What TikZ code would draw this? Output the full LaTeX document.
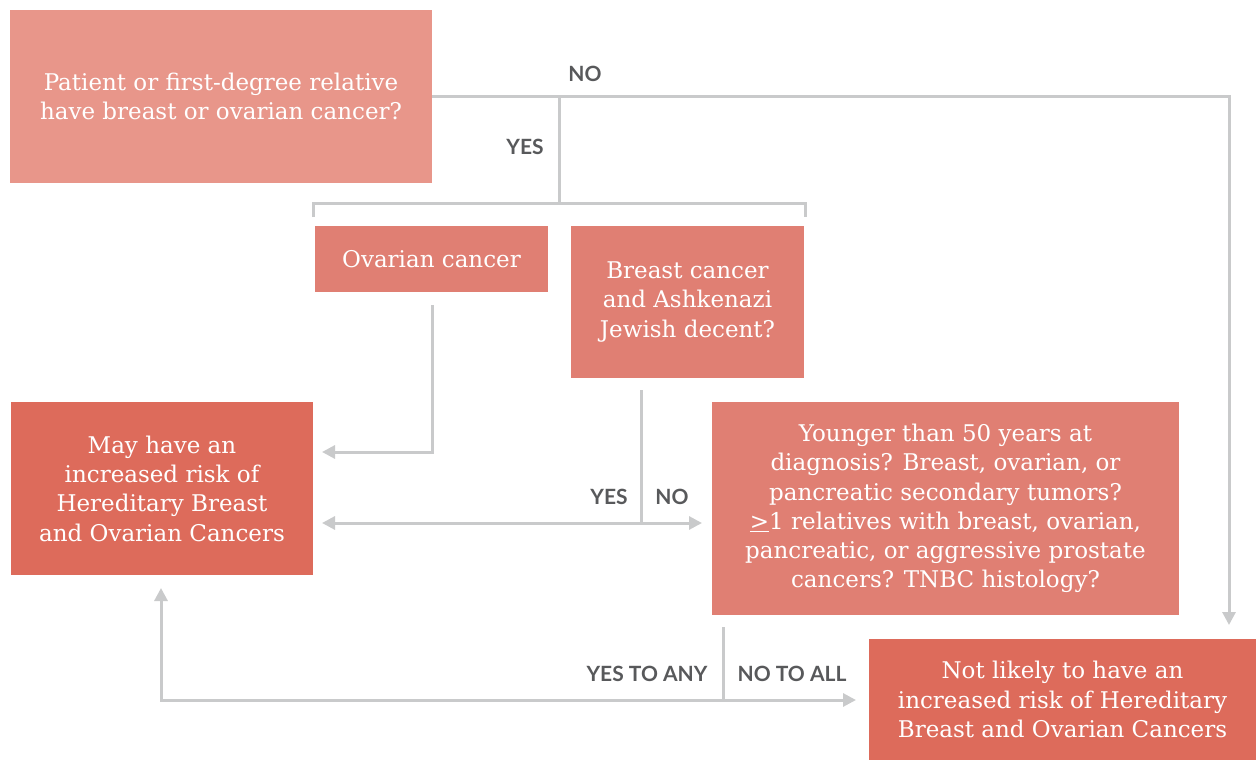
\documentclass[tikz,border=0pt]{standalone}
\usepackage{fontspec}
\setmainfont{DejaVu Serif}
\newfontfamily\labelfont{Lato}
\usetikzlibrary{arrows.meta, positioning}

\definecolor{boxlight}{HTML}{E8968A}
\definecolor{boxmid}{HTML}{E07F73}
\definecolor{boxdark}{HTML}{DD6B5B}
\definecolor{linegray}{HTML}{C9CACB}
\definecolor{labelgray}{HTML}{58595B}

\tikzset{
  box/.style={rectangle, inner sep=0pt, align=center, text=white,
    font=\fontsize{23}{29.3}\selectfont},
  conn/.style={draw=linegray, line width=3pt},
  tip/.tip={Triangle[length=13pt, width=13pt]},
  arr/.style={conn, -tip},
  ans/.style={font=\labelfont\bfseries\fontsize{21}{22}\selectfont, text=labelgray},
}

\begin{document}
\begin{tikzpicture}[x=1pt, y=-1pt]
  \useasboundingbox (0,0) rectangle (1256,760);

  % Boxes
  \node[box, fill=boxlight, minimum width=422pt, minimum height=173pt]
       (patient) at (221,96.5) {Patient or first-degree relative\\have breast or ovarian cancer?};
  \node[box, fill=boxmid, minimum width=233pt, minimum height=66pt]
       (ovarian) at (431.5,259) {Ovarian cancer};
  \node[box, fill=boxmid, minimum width=233pt, minimum height=152pt]
       (breast) at (687.5,302) {Breast cancer\\and Ashkenazi\\Jewish decent?};
  \node[box, fill=boxdark, minimum width=302pt, minimum height=173pt]
       (mayrisk) at (162,488.5) {May have an\\increased risk of\\Hereditary Breast\\and Ovarian Cancers};
  \node[box, fill=boxmid, minimum width=467pt, minimum height=213pt]
       (younger) at (945.5,508.5) {Younger than 50 years at\\diagnosis? Breast, ovarian, or\\pancreatic secondary tumors?\\\underline{>}1 relatives with breast, ovarian,\\pancreatic, or aggressive prostate\\cancers? TNBC histology?};
  \node[box, fill=boxdark, minimum width=387pt, minimum height=121pt]
       (notlikely) at (1062.5,699.5) {Not likely to have an\\increased risk of Hereditary\\Breast and Ovarian Cancers};

  % Free ends of the connectors
  \coordinate (split) at (559,96.5);
  \coordinate (brmid) at (559,203);
  \coordinate (brleft) at (313,217);
  \coordinate (brright) at (805,217);
  \coordinate (ovout) at (432,305);
  \coordinate (ovin) at (322,452);
  \coordinate (brout) at (641,390);
  \coordinate (brjoin) at (641,523);
  \coordinate (yesin) at (322,523);
  \coordinate (noin) at (702,523);
  \coordinate (yout) at (723,627);
  \coordinate (yjoin) at (723,700);
  \coordinate (anyin) at (161,588);
  \coordinate (allin) at (856,700);
  \coordinate (noend) at (1229,625);

  % Connectors
  \draw[arr] (patient.east) -| (noend);
  \draw[conn] (split) -- (brmid);
  \draw[conn] (brleft) |- (brmid) -| (brright);
  \draw[arr] (ovout) |- (ovin);
  \draw[conn] (brout) -- (brjoin);
  \draw[conn, tip-tip] (yesin) -- (noin);
  \draw[conn] (yout) -- (yjoin);
  \draw[conn, tip-tip] (anyin) |- (allin);

  % Answers
  \node[ans] (no1) at (585,74) {NO};
  \node[ans] (yes1) at (525,147) {YES};
  \node[ans] (yes2) at (609,497) {YES};
  \node[ans] (no2) at (672,497) {NO};
  \node[ans] (yesany) at (647,674) {YES TO ANY};
  \node[ans] (noall) at (792,674) {NO TO ALL};
\end{tikzpicture}
\end{document}
